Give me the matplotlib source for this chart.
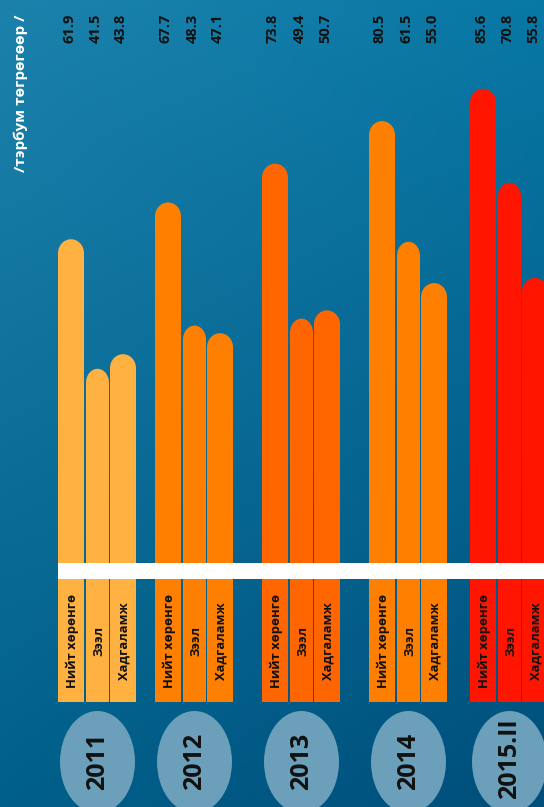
import numpy as np
import matplotlib
matplotlib.use("Agg")
import matplotlib.pyplot as plt
from matplotlib.patches import Ellipse, Rectangle

plt.rcParams["font.family"] = ["Open Sans", "DejaVu Sans"]

# Data read from the infographic (billion MNT)
years = ["2011", "2012", "2013", "2014", "2015.II"]
categories = ["Нийт хөрөнгө", "Зээл", "Хадгаламж"]
total_assets = [61.9, 67.7, 73.8, 80.5, 85.6]
loans = [41.5, 48.3, 49.4, 61.5, 70.8]
savings = [43.8, 47.1, 50.7, 55.0, 55.8]
year_colors = ["#FFB142", "#FF8000", "#FF6600", "#FF8000", "#FF1500"]
unit_label = "/тэрбум төгрөгөөр /"

series = [total_assets, loans, savings]

# Figure in pixel units
W, H = 544, 807
fig = plt.figure(figsize=(W / 100, H / 100), dpi=100)

# Background gradient
bg = fig.add_axes([0, 0, 1, 1], zorder=0)
xx, yy = np.meshgrid(np.linspace(0, 1, 200), np.linspace(0, 1, 300))
top_left = np.array([28, 130, 172]) / 255
top_right = np.array([8, 120, 165]) / 255
bot_left = np.array([0, 96, 138]) / 255
bot_right = np.array([0, 78, 122]) / 255
grad = (top_left * ((1 - xx) * (1 - yy))[..., None]
        + top_right * (xx * (1 - yy))[..., None]
        + bot_left * ((1 - xx) * yy)[..., None]
        + bot_right * (xx * yy)[..., None])
bg.imshow(grad, extent=[0, W, H, 0], aspect="auto")
bg.set_xlim(0, W)
bg.set_ylim(H, 0)
bg.axis("off")

# Bar axes: bottom edge at the bottom of the label boxes (y = 702 px)
bar_bottom_px = 702
px_per_unit = 6.35
zero_px = 632.3
ylow = (zero_px - bar_bottom_px) / px_per_unit
yhigh = zero_px / px_per_unit

ax = fig.add_axes([0, 1 - bar_bottom_px / H, 1, bar_bottom_px / H], zorder=1)
ax.set_xlim(0, W)
ax.set_ylim(ylow, yhigh)
ax.axis("off")

group_starts = [58, 155, 262, 369, 470]
bar_widths = [26, 23, 26]
bar_offsets = [0, 28, 52]
cap_px = 14
cap = cap_px / px_per_unit

centers = []
for i, year in enumerate(years):
    g0 = group_starts[i]
    row = []
    for j in range(3):
        left = g0 + bar_offsets[j]
        w = bar_widths[j]
        v = series[j][i]
        cx = left + w / 2
        row.append(cx)
        ax.bar(cx, v - cap - ylow, bottom=ylow, width=w,
               color=year_colors[i], edgecolor="none")
        ax.add_patch(Ellipse((cx, v - cap), w, 2 * cap,
                             color=year_colors[i], linewidth=0))
    centers.append(row)

# Overlay in pixel coordinates
ov = fig.add_axes([0, 0, 1, 1], zorder=2)
ov.set_xlim(0, W)
ov.set_ylim(H, 0)
ov.patch.set_alpha(0)
ov.axis("off")

# White stripe across the bars
ov.add_patch(Rectangle((58, 563), W - 58, 16, color="white", linewidth=0))

# Category labels inside the lower boxes, value labels at the top
for i, year in enumerate(years):
    for j in range(3):
        cx = centers[i][j]
        ov.text(cx + 1, 641, categories[j], rotation=90, ha="center",
                va="center", fontsize=9.4, fontweight="bold", color="#111111")
        ov.text(cx - 2, 28, f"{series[j][i]:.1f}", rotation=90, ha="center",
                va="center", fontsize=10.5, fontweight="bold", color="#111111")
    gx = group_starts[i] + 39.5
    ov.add_patch(Ellipse((gx, 762), 75, 102, color="#6b9fba", linewidth=0))
    ov.text(gx, 761 if i < 4 else 759, year, rotation=90, ha="center",
            va="center", fontsize=18, fontweight="bold", color="#111111")

# Unit label
ov.text(21, 93, unit_label, rotation=90, ha="center", va="center",
        fontsize=11, fontweight="bold", color="white")

fig.savefig("out.png", dpi=100)
